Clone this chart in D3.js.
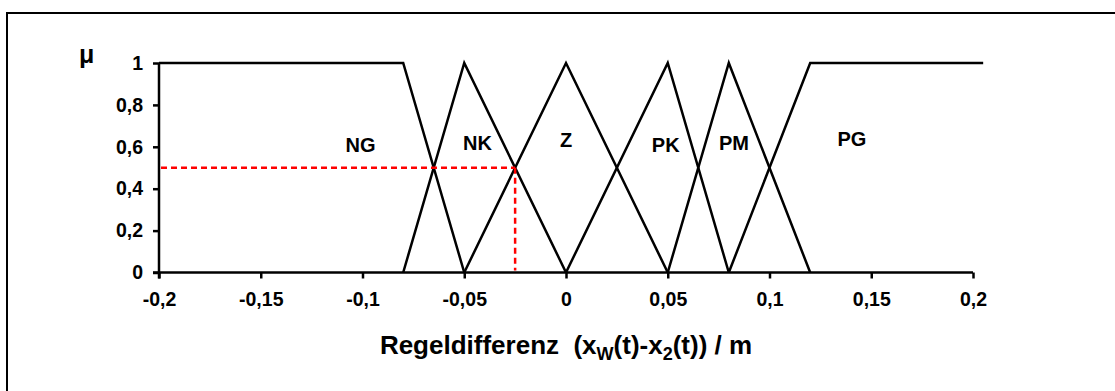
<!DOCTYPE html>
<html>
<head>
<meta charset="utf-8">
<script src="https://d3js.org/d3.v7.min.js"></script>
<style>
  html, body { margin: 0; padding: 0; background: #fff; }
  svg { display: block; font-family: "Liberation Sans", Arial, sans-serif; font-weight: bold; }
</style>
</head>
<body>
<div id="chart"></div>
<script>
// Fuzzy-Zugehörigkeitsfunktionen der Regeldifferenz
const setNames = ['NG', 'NK', 'Z', 'PK', 'PM', 'PG'];
const setXs = [
  [-0.2, -0.08, -0.05],
  [-0.08, -0.05, 0],
  [-0.05, 0, 0.05],
  [0, 0.05, 0.08],
  [0.05, 0.08, 0.12],
  [0.08, 0.12, 0.205]
];
const setMus = [
  [1, 1, 0],
  [0, 1, 0],
  [0, 1, 0],
  [0, 1, 0],
  [0, 1, 0],
  [0, 1, 1]
];
// Lage der Beschriftungen (x, µ)
const labelXs = [-0.101, -0.0435, 0, 0.049, 0.0825, 0.1405];
const labelMus = [0.61, 0.617, 0.632, 0.608, 0.617, 0.636];

// Beispielwert (rot gestrichelt)
const markerX = [-0.025];
const markerMu = [0.5];

const xTicks = [-0.2, -0.15, -0.1, -0.05, 0, 0.05, 0.1, 0.15, 0.2];
const yTicks = [0, 0.2, 0.4, 0.6, 0.8, 1];

const W = 1115, H = 391;
const comma = d => String(d).replace('.', ',');

const svg = d3.select('#chart').append('svg')
  .attr('width', W)
  .attr('height', H);

// Rahmen (rechts/unten außerhalb des Bildes)
svg.append('rect')
  .attr('x', 7).attr('y', 13)
  .attr('width', W + 20).attr('height', H + 20)
  .attr('fill', 'none')
  .attr('stroke', '#000')
  .attr('stroke-width', 2);

const x = d3.scaleLinear().domain([-0.2, 0.2]).range([159, 973]);
const y = d3.scaleLinear().domain([0, 1]).range([272.5, 63]);

// Achsen
const xAxis = svg.append('g')
  .attr('transform', `translate(0,${y(0)})`)
  .call(d3.axisBottom(x).tickValues(xTicks).tickSize(6).tickSizeOuter(0).tickPadding(14).tickFormat(comma));

const yAxis = svg.append('g')
  .attr('transform', `translate(${x(-0.2)},0)`)
  .call(d3.axisLeft(y).tickValues(yTicks).tickSize(6).tickSizeOuter(0).tickPadding(10).tickFormat(comma));

[xAxis, yAxis].forEach(a => {
  a.selectAll('path, line').attr('stroke', '#000').attr('stroke-width', 2.5);
  a.selectAll('text')
    .attr('fill', '#000')
    .style('font-size', '19.5px')
    .style('font-weight', 'bold')
    .style('font-family', '"Liberation Sans", Arial, sans-serif');
});
xAxis.select('.domain').remove();
yAxis.select('.domain').remove();

// Achsenlinien
svg.append('line')
  .attr('x1', x(-0.2) - 6).attr('x2', x(0.2))
  .attr('y1', y(0)).attr('y2', y(0))
  .attr('stroke', '#000').attr('stroke-width', 2.5);
svg.append('line')
  .attr('x1', x(-0.2)).attr('x2', x(-0.2))
  .attr('y1', y(1)).attr('y2', y(0) + 6)
  .attr('stroke', '#000').attr('stroke-width', 2.5);

// Zugehörigkeitsfunktionen
const line = d3.line().x(d => x(d[0])).y(d => y(d[1]));
svg.append('g').selectAll('path')
  .data(setXs.map((xs, i) => xs.map((v, j) => [v, setMus[i][j]])))
  .enter()
  .append('path')
  .attr('d', line)
  .attr('fill', 'none')
  .attr('stroke', '#000')
  .attr('stroke-width', 2.5)
  .attr('stroke-linejoin', 'miter');

// rote Hilfslinien
const g = svg.append('g')
  .attr('stroke', '#ff0000')
  .attr('stroke-width', 2.5)
  .attr('stroke-dasharray', '6,4');
g.append('line')
  .attr('x1', x(-0.2) + 2).attr('x2', x(markerX[0]))
  .attr('y1', y(markerMu[0])).attr('y2', y(markerMu[0]));
g.append('line')
  .attr('x1', x(markerX[0])).attr('x2', x(markerX[0]))
  .attr('y1', y(markerMu[0])).attr('y2', y(0) - 2);

// Beschriftungen der Mengen
svg.append('g').selectAll('text')
  .data(setNames)
  .enter()
  .append('text')
  .attr('x', (d, i) => x(labelXs[i]))
  .attr('y', (d, i) => y(labelMus[i]))
  .attr('dy', '0.36em')
  .attr('text-anchor', 'middle')
  .style('font-size', '20px')
  .text(d => d);

// µ
svg.append('text')
  .attr('x', 79).attr('y', 63)
  .style('font-size', '25px')
  .text('\u03BC');

// Achsentitel
const title = svg.append('text')
  .attr('x', x(0)).attr('y', 354)
  .attr('text-anchor', 'middle')
  .style('font-size', '26px');
title.append('tspan').text('Regeldifferenz\u00A0\u00A0(x');
title.append('tspan').attr('dy', 6).style('font-size', '18px').text('W');
title.append('tspan').attr('dy', -6).text('(t)-x');
title.append('tspan').attr('dy', 6).style('font-size', '18px').text('2');
title.append('tspan').attr('dy', -6).text('(t)) / m');
</script>
</body>
</html>
